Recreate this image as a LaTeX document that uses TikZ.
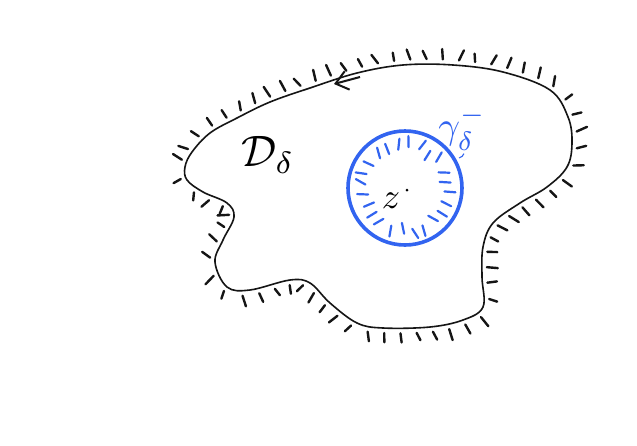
\documentclass[tikz,border=0pt]{standalone}
\definecolor{domBlue}{HTML}{3264F0}
\definecolor{domInk}{HTML}{151515}
\usepackage{tikz}
\usetikzlibrary{arrows.meta, decorations.markings, calc}
\usepackage{amsmath}
\usepackage{graphicx}

\begin{document}
\begin{tikzpicture}[x=1pt, y=-1pt,
  rim/.style={line width=1.6pt, domInk},
  hatch/.style={line width=2.4pt, line cap=round, domInk},
  inhatch/.style={line width=2.2pt, line cap=round, domBlue},
  outhatch/.style={postaction={decorate, decoration={markings,
    mark=between positions 0 and 1 step 16pt with {
      \pgfmathsetmacro\tilt{rand*28}
      \pgfmathsetmacro\len{10+rand*2}
      \draw[hatch] (0pt,5pt) -- ++({90+\tilt}:\len pt);}}}}]
  \pgfmathsetseed{11}
  \fill[white] (0,0) rectangle (637,445);

  % domain with its outer boundary
  \draw[rim, outhatch] plot[smooth cycle, tension=0.6] coordinates {
    (185,167) (192,152) (210,133) (237,118) (270,102) (310,88)
    (357,73) (403,65) (453,65) (503,72) (550,90) (568,117)
    (572,143) (567,167) (547,187) (520,203) (493,223) (483,247)
    (482,277) (483,307) (463,320) (430,327) (383,328) (357,323)
    (330,303) (310,283) (290,280) (250,290) (227,287) (215,262)
    (223,240) (234,217) (227,203) (203,192) (187,180)};
  \coordinate (tail) at (360,77);
  \coordinate (tip) at (334,84);
  \draw[rim, line width=2pt, -{Straight Barb[length=12pt, width=19pt]}] (tail) -- (tip);

  % the small disc round z
  \coordinate (z) at (405,188);
  \draw[line width=3.6pt, domBlue] (z) circle[radius=57];
  \foreach \a in {5,20,...,350} {
    \pgfmathsetmacro\tilt{rand*30}
    \pgfmathsetmacro\rin{38+rand*4}
    \draw[inhatch] (z) ++(\a:\rin) -- ++({\a+\tilt}:11);
  }
  \fill (407,190) circle[radius=1.5];

  \node (dom) at (268,155) {\scalebox{4.4}{$\mathcal{D}_\delta$}};
  \node (pt) at (391,201) {\scalebox{3.6}{$z$}};
  \node[text=domBlue] (bdry) at (462,128) {\scalebox{3.8}{$\gamma_\delta^-$}};
  \coordinate (foot) at (459,158);
  \draw[domBlue, line width=1.1pt] ([xshift=2pt]bdry.south) to[bend left=25] (foot);
\end{tikzpicture}
\end{document}
